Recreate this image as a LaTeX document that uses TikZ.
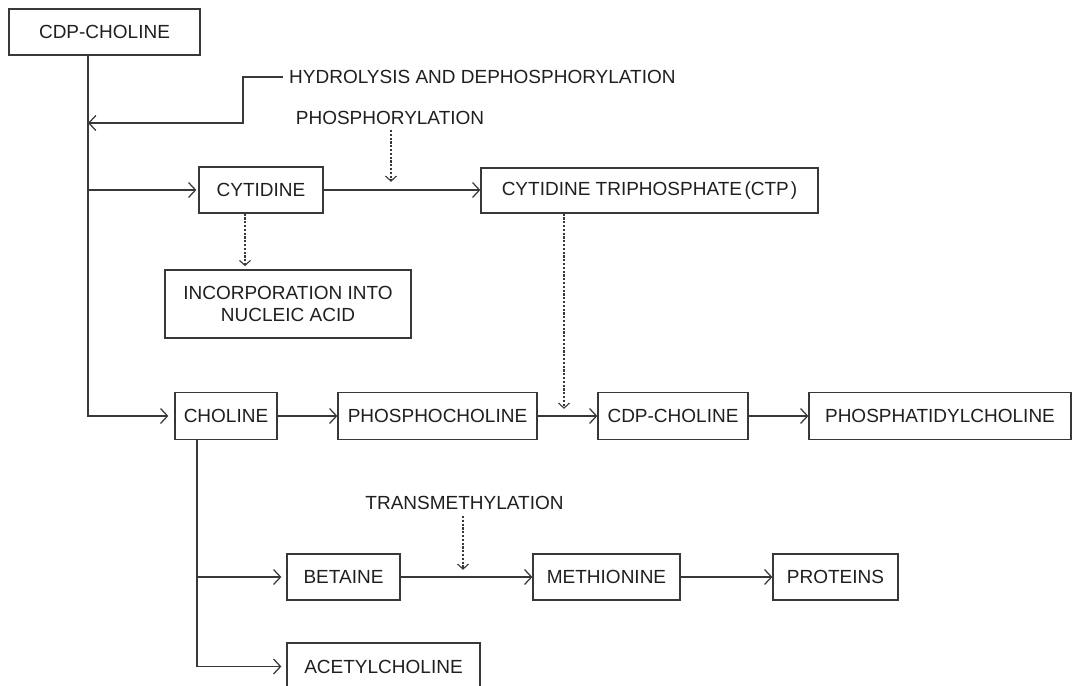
\documentclass[tikz,border=0pt]{standalone}
\usepackage{fontspec}
\setmainfont{Liberation Sans}
\usetikzlibrary{arrows.meta}
\begin{document}
\begin{tikzpicture}[x=1pt,y=-1pt,
  every node/.style={font=\fontsize{19}{22.7}\selectfont, text=black!88},
  box/.style={draw=black!78, line width=1.25pt, minimum height=46pt, inner sep=0pt, align=center},
  conn/.style={draw=black!78, line width=1.25pt},
  arr/.style={conn, -{Straight Barb[length=7pt,width=15pt,line width=1.25pt]}},
  dotarr/.style={draw=black!78, line width=1.1pt, dash pattern=on 2.2pt off 1.6pt, -{Straight Barb[length=5pt,width=11pt,line width=1.1pt,sep]}},
  lbl/.style={inner sep=0pt}]
\useasboundingbox (0,0) rectangle (1072,686);
\clip (0,0) rectangle (1072,686);

% nodes
\node[box, minimum width=191pt] (cdp0) at (104.5,32) {CDP-CHOLINE};
\node[lbl, anchor=west] (hyd) at (289,77) {HYDROLYSIS AND DEPHOSPHORYLATION};
\node[lbl] (phos) at (390,118) {PHOSPHORYLATION};
\node[box, minimum width=124pt, minimum height=46pt] (cyt) at (261,190) {CYTIDINE};
\node[box, minimum width=337pt, minimum height=45pt] (ctp) at (649.5,190.5) {CYTIDINE TRIPHOSPHATE\hspace{2.5pt}(CTP\hspace{2pt})};
\node[box, minimum width=246pt, minimum height=68pt] (inc) at (288,304) {INCORPORATION INTO\\NUCLEIC ACID};
\node[box, minimum width=102pt, minimum height=47pt] (chol) at (226,416) {CHOLINE};
\node[box, minimum width=199pt, minimum height=47pt] (pcho) at (437.5,416) {PHOSPHOCHOLINE};
\node[box, minimum width=150pt, minimum height=47pt] (cdp) at (673,416) {CDP-CHOLINE};
\node[box, minimum width=262pt, minimum height=47pt] (ptc) at (940,416) {PHOSPHATIDYLCHOLINE};
\node[lbl] (trans) at (464.5,503) {TRANSMETHYLATION};
\node[box, minimum width=113pt] (bet) at (343.5,577) {BETAINE};
\node[box, minimum width=147pt] (met) at (606.5,577) {METHIONINE};
\node[box, minimum width=125pt] (pro) at (835.5,577) {PROTEINS};
\node[box, minimum width=193pt, minimum height=47pt] (ace) at (383.5,666.5) {ACETYLCHOLINE};

% helper coordinates
\coordinate (t1) at (88,416);
\coordinate (hb) at (243,123);
\coordinate (t2) at (197,666.5);
\coordinate (px) at (391,183);
\coordinate (cx) at (245,0);
\coordinate (ctpx) at (564,410);
\coordinate (tx) at (463,571);

% main trunk
\draw[arr, shorten >=6pt] (cdp0.south -| t1) |- (chol.west);
\draw[arr, shorten >=2pt] (cyt.west -| t1) -- (cyt.west);
\draw[arr, shorten <=6pt] (hyd.west) -| (hb) -- (hb -| t1);

% cytidine branch
\draw[arr] (cyt.east) -- (cyt.east -| ctp.west);
\draw[dotarr] ([yshift=-5pt]phos.south -| px) -- (px);
\draw[dotarr] (cyt.south -| cx) -- ([yshift=2pt]inc.north -| cx);
\draw[dotarr] (ctp.south -| ctpx) -- (ctpx);

% choline row
\draw[arr] (chol.east) -- (pcho.west);
\draw[arr] (pcho.east) -- (cdp.west);
\draw[arr] (cdp.east) -- (ptc.west);

% choline branches
\draw[arr, shorten >=5pt] (chol.south -| t2) |- (ace.west);
\draw[arr, shorten >=5pt] (bet.west -| t2) -- (bet.west);
\draw[arr] (bet.east) -- (met.west);
\draw[arr] (met.east) -- (pro.west);
\draw[dotarr] ([yshift=-6pt]trans.south -| tx) -- (tx);
\end{tikzpicture}
\end{document}
